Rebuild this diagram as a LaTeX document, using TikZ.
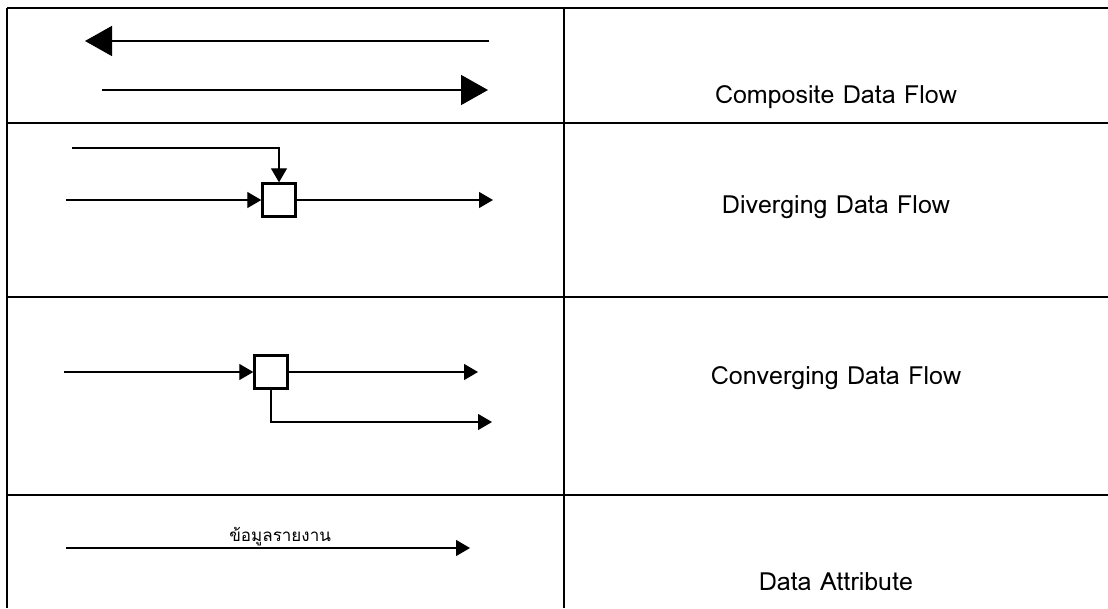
\documentclass[tikz,border=0pt]{standalone}
\usepackage{fontspec}
\newfontfamily\thaifont[Script=Thai]{Loma}
\usetikzlibrary{arrows.meta}

\begin{document}
\begin{tikzpicture}[x=1pt,y=-1pt,
    grid/.style={line width=2.8pt},
    flow/.style={line width=1.3pt,-{Triangle[length=14pt,width=16pt]}},
    bigflow/.style={line width=1.6pt,-{Triangle[length=27pt,width=30pt]}},
    junction/.style={rectangle,draw,line width=2.4pt,minimum size=33pt,inner sep=0pt},
    label/.style={font=\thaifont\fontsize{25}{30}\selectfont}]
        \useasboundingbox (0,0) rectangle (1108,608);

        % table
        \draw[grid] (7,8) -- (1108,8);
        \draw[grid] (7,8) -- (7,608);
        \draw[grid] (564,8) -- (564,608);
        \draw[grid] (7,123) -- (1108,123);
        \draw[grid] (7,297) -- (1108,297);
        \draw[grid] (7,495) -- (1108,495);

        % composite
        \coordinate (c1a) at (489,41);
        \coordinate (c1b) at (85,41);
        \coordinate (c2a) at (102,90);
        \coordinate (c2b) at (488,90);
        \draw[bigflow] (c1a) -- (c1b);
        \draw[bigflow] (c2a) -- (c2b);
        \node[label] at (836,97) (composite) {Composite Data Flow};

        % diverging
        \node[junction] at (279,200) (dbox) {};
        \coordinate (din1) at (72,148);
        \coordinate (din2) at (66,200);
        \coordinate (dout) at (493,200);
        \draw[flow] (din1) -| (dbox);
        \draw[flow] (din2) -- (dbox);
        \draw[flow] (dbox) -- (dout);
        \node[label] at (836,207) (diverging) {Diverging Data Flow};

        % converging
        \node[junction] at (271,372) (cbox) {};
        \coordinate (cin) at (64,372);
        \coordinate (cout1) at (478,372);
        \coordinate (cout2) at (492,422);
        \draw[flow] (cin) -- (cbox);
        \draw[flow] (cbox) -- (cout1);
        \draw[flow] (cbox) |- (cout2);
        \node[label] at (836,378) (converging) {Converging Data Flow};

        % attribute
        \coordinate (ain) at (66,548);
        \coordinate (aout) at (470,548);
        \draw[flow] (ain) -- (aout) node[pos=0.53,above,inner sep=1pt,font=\thaifont\fontsize{17}{20}\selectfont] (report) {ข้อมูลรายงาน};
        \node[label] at (836,582) (attribute) {Data Attribute};
    \end{tikzpicture}
\end{document}
